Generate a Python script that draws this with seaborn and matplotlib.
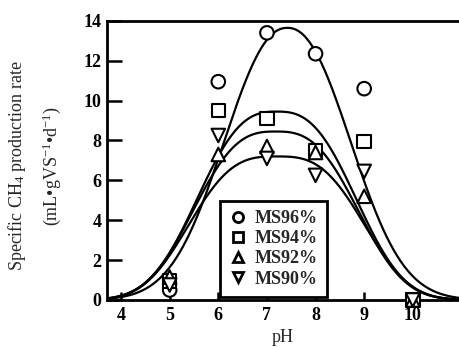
import numpy as np
import pandas as pd
import matplotlib
matplotlib.use("Agg")
import matplotlib.pyplot as plt
import seaborn as sns

# ---- data ----
series = ["MS96%", "MS94%", "MS92%", "MS90%"]
ph = [5, 6, 7, 8, 9, 10]
ms96 = [0.5, 10.95, 13.4, 12.35, 10.6, 0.0]
ms94 = [0.95, 9.5, 9.1, 7.5, 7.95, 0.0]
ms92 = [1.15, 7.3, 7.7, 7.4, 5.2, 0.0]
ms90 = [0.75, 8.25, 7.1, 6.25, 6.45, 0.0]

# fitted-curve parameters (peak height, peak pH, width, shape exponent)
fit_peak = [13.65, 9.45, 8.45, 7.2]
fit_center = [7.42, 7.2, 7.18, 7.2]
fit_width = [1.72, 1.95, 2.0, 2.09]
fit_shape = [2.2, 2.7, 2.8, 3.0]

xticks = [4, 5, 6, 7, 8, 9, 10]
yticks = [0, 2, 4, 6, 8, 10, 12, 14]

# ---- build tables ----
values = [ms96, ms94, ms92, ms90]
pts = pd.DataFrame({
    "pH": np.tile(ph, len(series)),
    "rate": np.concatenate(values),
    "series": np.repeat(series, len(ph)),
})
xs = np.linspace(3.71, 10.95, 400)
curves = pd.concat([
    pd.DataFrame({"pH": xs,
                  "rate": a * np.exp(-(np.abs(xs - c) / w) ** p),
                  "series": s})
    for s, a, c, w, p in zip(series, fit_peak, fit_center, fit_width, fit_shape)
])

sns.set_theme(style="ticks")
plt.rcParams["font.family"] = ["Liberation Serif", "DejaVu Serif"]
plt.rcParams["mathtext.fontset"] = "custom"
plt.rcParams["mathtext.rm"] = "Liberation Serif"
plt.rcParams["mathtext.it"] = "Liberation Serif:italic"

fig = plt.figure(figsize=(4.59, 3.48), dpi=100)
ax = fig.add_axes([0.233, 0.138, 0.767, 0.802])

sns.lineplot(data=curves, x="pH", y="rate", units="series", estimator=None,
             color="black", linewidth=1.6, ax=ax, legend=False, sort=False)

markers = {"MS96%": "o", "MS94%": "s", "MS92%": "^", "MS90%": "v"}
sns.scatterplot(data=pts, x="pH", y="rate", style="series", markers=markers,
                style_order=series, s=95, facecolor="white", edgecolor="black",
                linewidth=1.5, ax=ax, clip_on=False, zorder=3)

ax.set_xlim(3.71, 10.95)
ax.set_ylim(0, 14)
ax.set_xticks(xticks)
ax.set_yticks(yticks)
ax.tick_params(direction="in", width=1.8, labelsize=13, colors="black")
ax.tick_params(axis="y", length=11, pad=4)
ax.tick_params(axis="x", length=6, pad=5)
for lab in ax.get_xticklabels() + ax.get_yticklabels():
    lab.set_fontweight("bold")
for side in ["left", "bottom", "top"]:
    ax.spines[side].set_linewidth(2.0)
    ax.spines[side].set_color("black")
ax.spines["right"].set_visible(False)

ax.set_xlabel("pH", fontsize=13, labelpad=4)
ax.set_ylabel("Specific CH$_4$ production rate\n(mL\u2022gVS$^{-1}$\u2022d$^{-1}$)",
              fontsize=13, linespacing=1.75)
ax.yaxis.set_label_coords(-0.125, 0.48)

leg = ax.legend(loc="lower left", bbox_to_anchor=(0.322, 0.012), frameon=True,
                fancybox=False, edgecolor="black", framealpha=1.0,
                handletextpad=0.4, borderpad=0.5, labelspacing=0.18,
                handlelength=1.0, borderaxespad=0, markerscale=0.75,
                prop={"family": "Liberation Serif", "weight": "bold", "size": 13})
leg.get_frame().set_linewidth(2.0)
for h in leg.legend_handles:
    try:
        h.set_markerfacecolor("white")
        h.set_markeredgecolor("black")
        h.set_markeredgewidth(2.0)
    except AttributeError:
        h.set_facecolor("white")
        h.set_edgecolor("black")
        h.set_linewidth(2.0)

fig.savefig("out.png", dpi=100)
